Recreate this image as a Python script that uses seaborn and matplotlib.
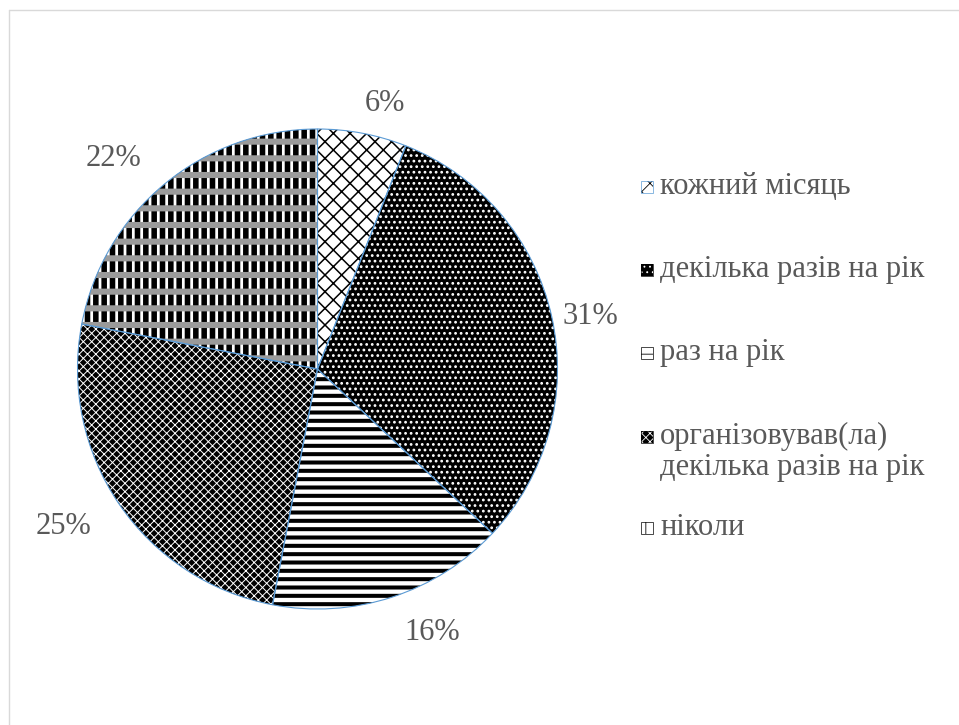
import numpy as np
import matplotlib
matplotlib.use("Agg")
import matplotlib.pyplot as plt
import seaborn as sns
from matplotlib.patches import Rectangle
from matplotlib.lines import Line2D

# Survey answers and their shares (%)
categories = [
    "кожний місяць",
    "декілька разів на рік",
    "раз на рік",
    "організовував(ла)\nдекілька разів на рік",
    "ніколи",
]
shares = [6, 31, 16, 25, 22]
pct_labels = ["6%", "31%", "16%", "25%", "22%"]

sns.set_theme(style="white")
plt.rcParams["font.family"] = ["Liberation Serif", "DejaVu Serif"]

W, H = 959, 725
fig = plt.figure(figsize=(W / 100, H / 100), dpi=100)
ax = fig.add_axes([0, 0, 1, 1])

TEXT = "#595959"
EDGE = "#5b9bd5"
CX, CY, R = 317.5, H - 369, 240

# Pattern fills for each wedge: base face, hatch colour, hatch, hatch width
faces = ["white", "black", "white", "black", "white"]
hatch_cols = ["black", "white", "black", "white", "black"]
hatches = ["xx", "...", "--", "xxxx", "||"]
hatch_lws = [1.1, 1.2, 2.9, 0.7, 4.0]


def set_hlw(patch, lw):
    if hasattr(patch, "set_hatch_linewidth"):
        patch.set_hatch_linewidth(lw)


wedges, _ = ax.pie(shares, startangle=90, counterclock=False,
                   center=(CX, CY), radius=R,
                   wedgeprops=dict(linewidth=0))
for w, fc, hc, ht, hl in zip(wedges, faces, hatch_cols, hatches, hatch_lws):
    w.set_facecolor(fc)
    w.set_edgecolor(hc)
    w.set_hatch(ht)
    set_hlw(w, hl)

# grey bands across the checked wedge ("ніколи")
bands, _ = ax.pie(shares, startangle=90, counterclock=False,
                  center=(CX, CY), radius=R,
                  wedgeprops=dict(linewidth=0, fill=False))
for i, w in enumerate(bands):
    if i == 4:
        w.set_edgecolor("#9a9a9a")
        w.set_hatch("-")
        set_hlw(w, 4.4)
    else:
        w.set_visible(False)

# thin outlines of the slices
ax.pie(shares, startangle=90, counterclock=False, center=(CX, CY), radius=R,
       wedgeprops=dict(fill=False, edgecolor=EDGE, linewidth=0.8))

# percentage labels around the pie: (radius factor, angular shift in degrees)
label_pos = [(1.143, -3.4), (1.157, -1.6), (1.195, 5.5), (1.246, -2.5), (1.221, 4.4)]
for w, txt, (dist, shift) in zip(wedges, pct_labels, label_pos):
    ang = np.deg2rad((w.theta1 + w.theta2) / 2 + shift)
    ax.text(CX + dist * R * np.cos(ang), CY + dist * R * np.sin(ang), txt,
            ha="center", va="center", fontsize=22, color=TEXT)

# legend
leg_x = 641
leg_rows = [[187], [270], [353], [437, 468], [528]]
for i, (cat, ys) in enumerate(zip(categories, leg_rows)):
    rect = Rectangle((leg_x, H - ys[0] - 6), 12, 12, facecolor=faces[i],
                     edgecolor=hatch_cols[i], hatch=hatches[i], linewidth=0)
    set_hlw(rect, 0.6)
    ax.add_patch(rect)
    ax.add_patch(Rectangle((leg_x, H - ys[0] - 6), 12, 12, fill=False,
                           edgecolor=EDGE if i == 0 else "black", linewidth=0.5))
    for line, y in zip(cat.split("\n"), ys):
        ax.text(leg_x + 19, H - y - 7, line, ha="left", va="baseline",
                fontsize=22, color=TEXT)

# outer chart frame
ax.add_line(Line2D([8.5, W + 5], [H - 9.5, H - 9.5], color="#d9d9d9", lw=1.0))
ax.add_line(Line2D([8.5, 8.5], [H - 9.5, -5], color="#d9d9d9", lw=1.0))

ax.set_xlim(0, W)
ax.set_ylim(0, H)
ax.set_aspect("auto")
ax.axis("off")

fig.savefig("out.png", dpi=100, facecolor="white")
